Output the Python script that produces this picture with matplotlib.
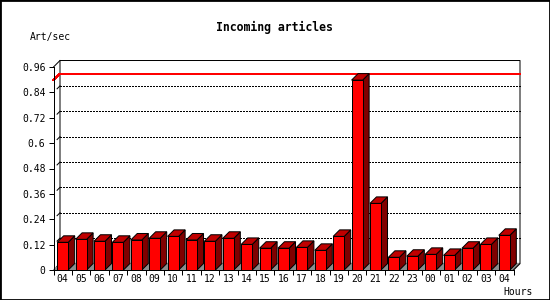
import matplotlib
matplotlib.use("Agg")
from matplotlib import pyplot as plt
from matplotlib.patches import Rectangle

hours = ["04", "05", "06", "07", "08", "09", "10", "11", "12", "13", "14", "15",
         "16", "17", "18", "19", "20", "21", "22", "23", "00", "01", "02", "03", "04"]
art_per_sec = [0.131, 0.145, 0.136, 0.131, 0.142, 0.150, 0.159, 0.142, 0.136, 0.150,
               0.121, 0.103, 0.103, 0.107, 0.093, 0.159, 0.898, 0.315, 0.060, 0.065,
               0.074, 0.069, 0.103, 0.121, 0.164]
y_ticks = [0, 0.12, 0.24, 0.36, 0.48, 0.6, 0.72, 0.84, 0.96]
y_labels = ["0", "0.12", "0.24", "0.36", "0.48", "0.6", "0.72", "0.84", "0.96"]

FONT = "DejaVu Sans Mono"
PX = 0.72          # one pixel in points at dpi 100
DX = 0.353         # 3d depth, x data units
DY = 0.0307        # 3d depth, y data units
HALF = 0.3         # half width of bar front face
YMAX = 0.96
n = len(hours)
x0, x1 = -0.5, n - 0.5

fig = plt.figure(figsize=(5.5, 3.0), dpi=100)
ax = fig.add_axes([53.5 / 550, 30 / 300, 460 / 550, 203 / 300])
ax.set_xlim(x0, x1)
ax.set_ylim(0, YMAX)
for s in ["top", "right"]:
    ax.spines[s].set_visible(False)
for s in ["left", "bottom"]:
    ax.spines[s].set_linewidth(PX)
    ax.spines[s].set_zorder(6)

# back frame, floor and grid
ax.fill([x0 + DX, x1 + DX, x1 + DX, x0 + DX], [DY, DY, YMAX + DY, YMAX + DY],
        color="white", zorder=0, clip_on=False)
ax.fill([x0, x1, x1 + DX, x0 + DX], [0, 0, DY, DY], color="#8c8c8c", zorder=1, clip_on=False)
ax.plot([x0 + DX, x0 + DX, x1 + DX, x1 + DX, x1], [DY, YMAX + DY, YMAX + DY, DY, 0],
        color="black", lw=PX, zorder=2, clip_on=False)
ax.plot([x0, x0 + DX], [YMAX, YMAX + DY], color="black", lw=PX, zorder=2, clip_on=False)
for t in y_ticks[:-1]:
    if t > 0:
        ax.plot([x0 + DX, x1 + DX], [t + DY, t + DY], color="black", lw=PX,
                dashes=(2, 2), antialiased=False, zorder=2, clip_on=False)
    ax.plot([x0 + 0.55 * DX, x0 + DX], [t + 0.55 * DY, t + DY], color="black",
            lw=PX, zorder=2, clip_on=False)

# max line
vmax = max(art_per_sec)
ax.plot([x0, x0 + DX, x1 + DX], [vmax, vmax + DY, vmax + DY], color="#ff0000",
        lw=PX, antialiased=False, zorder=2, clip_on=False)

# 3d bars
for i, v in enumerate(art_per_sec):
    ax.fill([i + HALF, i + HALF + DX, i + HALF + DX, i + HALF], [0, DY, v + DY, v],
            facecolor="#800000", edgecolor="black", lw=PX, zorder=3, clip_on=False)
    ax.fill([i - HALF, i - HALF + DX, i + HALF + DX, i + HALF], [v, v + DY, v + DY, v],
            facecolor="#c00000", edgecolor="black", lw=PX, zorder=3, clip_on=False)
ax.bar(range(n), art_per_sec, width=2 * HALF, color="#ff0000", edgecolor="black",
       lw=PX, zorder=4)

ax.set_yticks(y_ticks)
ax.set_yticklabels(y_labels, fontfamily=FONT, fontsize=7)
ax.set_xticks(range(n))
ax.set_xticklabels(hours, fontfamily=FONT, fontsize=7)
ax.set_xticks([i - 0.5 for i in range(n + 1)], minor=True)
ax.tick_params(axis="x", which="major", length=0, pad=3)
ax.tick_params(axis="x", which="minor", length=3.6, width=PX)
ax.tick_params(axis="y", length=3.6, width=PX, pad=2.2)

fig.text(274 / 550, 1 - 27 / 300, "Incoming articles", ha="center", va="center",
         fontfamily=FONT, fontsize=8.3, fontweight="bold")
fig.text(30 / 550, 1 - 37 / 300, "Art/sec", ha="left", va="center",
         fontfamily=FONT, fontsize=7)
fig.text(533 / 550, 1 - 292 / 300, "Hours", ha="right", va="center",
         fontfamily=FONT, fontsize=7)
fig.patches.append(Rectangle((0, 0), 1, 1, transform=fig.transFigure, fill=False,
                             edgecolor="black", lw=2))

fig.savefig("out.png", dpi=100)
